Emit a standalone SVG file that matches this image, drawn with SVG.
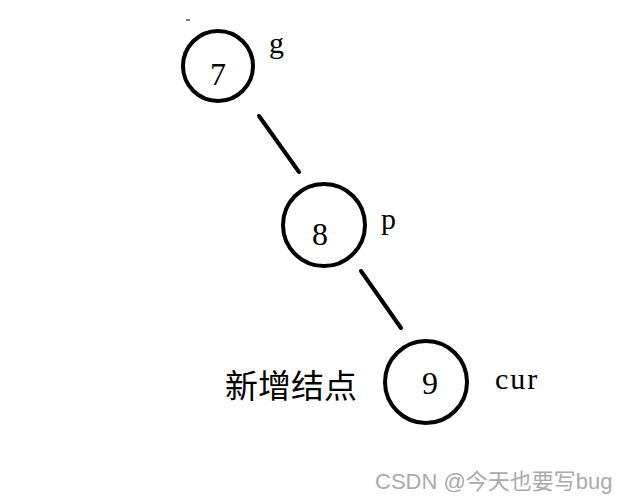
<svg xmlns="http://www.w3.org/2000/svg" width="636" height="502" viewBox="0 0 636 502">
<style>
.n{fill:none;stroke:#000;stroke-width:4}
.t{font-family:"Liberation Serif",serif;font-size:32px;fill:#000}
.l{font-family:"Liberation Serif",serif;font-size:30px;fill:#000}
.e{stroke:#000;stroke-width:4;stroke-linecap:round}
</style>
<rect width="636" height="502" fill="#fff"/>
<line x1="186" y1="20" x2="190" y2="20" stroke="#000" stroke-width="1"/>
<g id="connectors">
<line class="e" x1="259" y1="116" x2="299" y2="172"/>
<line class="e" x1="361" y1="271" x2="401" y2="328"/>
</g>
<g id="node7">
<circle class="n" cx="218" cy="66" r="35"/>
<text class="t" x="218" y="85" text-anchor="middle">7</text>
<text class="l" x="269" y="53">g</text>
</g>
<g id="node8">
<circle class="n" cx="324" cy="225" r="41"/>
<text class="t" x="320" y="245" text-anchor="middle">8</text>
<text class="l" x="381" y="229">p</text>
</g>
<g id="node9">
<circle class="n" cx="426" cy="382" r="41"/>
<text class="t" x="430" y="394" text-anchor="middle">9</text>
<text class="l" x="495" y="389" font-size="34" letter-spacing="2">cur</text>
</g>
<text x="225" y="398" font-family="'Noto Sans CJK SC',sans-serif" font-size="33" fill="#000">新增结点</text>
<text x="375" y="489" font-family="'Liberation Sans','Noto Sans CJK SC',sans-serif" font-size="22" fill="#aaa">CSDN @今天也要写bug</text>
</svg>
